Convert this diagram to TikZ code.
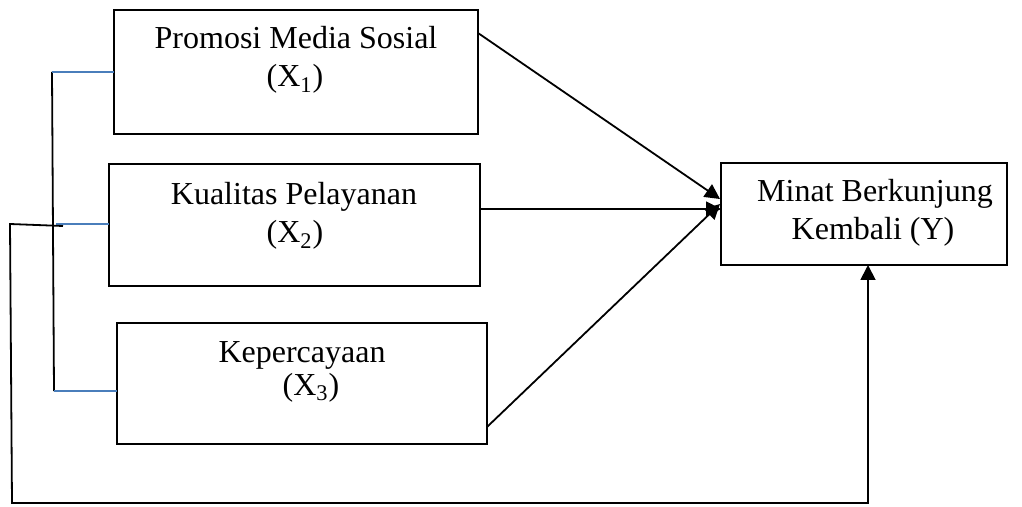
\documentclass[tikz,border=0pt]{standalone}
\usepackage{fontspec}
\setmainfont{Liberation Serif}
\usetikzlibrary{arrows.meta,calc}
\definecolor{wordblue}{HTML}{4A7EBB}
\tikzset{
  box/.style={draw=black, line width=0.9pt, inner sep=0pt, outer sep=0pt, fill=white},
  lbl/.style={anchor=base, inner sep=0pt, font=\fontsize{16}{19}\selectfont},
  conn/.style={draw=black, line width=0.9pt},
  tick/.style={draw=wordblue, line width=0.9pt},
  arr/.style={conn, -{Triangle[length=7.5pt,width=7.5pt]}}
}
\begin{document}
\begin{tikzpicture}[x=0.5pt,y=-0.5pt]
\useasboundingbox (0,0) rectangle (1022,507);
% boxes
\node[box, minimum width=182pt, minimum height=62pt] (x1) at (296,72) {};
\node[box, minimum width=185.5pt, minimum height=61pt] (x2) at (294.5,225) {};
\node[box, minimum width=185pt, minimum height=60.5pt] (x3) at (302,383.5) {};
\node[box, minimum width=143pt, minimum height=51pt] (y) at (864,214) {};
% labels
\node[lbl] (x1a) at (296,49) {Promosi Media Sosial};
\node[lbl] (x1b) at (295,87) {(X\textsubscript{1})};
\node[lbl] (x2a) at (294,205) {Kualitas Pelayanan};
\node[lbl] (x2b) at (295,243) {(X\textsubscript{2})};
\node[lbl] (x3a) at (302,363) {Kepercayaan};
\node[lbl] (x3b) at (311,395) {(X\textsubscript{3})};
\node[lbl] (ya) at (875,202) {Minat Berkunjung};
\node[lbl] (yb) at (873,240) {Kembali (Y)};
% bracket coordinates
\coordinate (b1) at (52,72);
\coordinate (b3) at (54,391);
\coordinate (b2) at (56,224);
\coordinate (l0) at (63,226);
\coordinate (l1) at (10,224);
\coordinate (l2) at (12,503);
\coordinate (ybot) at ($(y.south)+(4,0)$);
% arrow endpoints
\coordinate (s1) at ($(x1.north east)+(0,23)$);
\coordinate (s2) at (480,209);
\coordinate (s3) at ($(x3.south east)+(0,-17)$);
\coordinate (t1) at (720,199);
\coordinate (t2) at (721,209);
\coordinate (t3) at (720,204);
% bracket
\draw[conn] (b1) -- (b3);
\draw[tick] (b1) -- (x1.west);
\draw[tick] (b2) -- (b2 -| x2.west);
\draw[tick] (b3) -- (b3 -| x3.west);
% feedback line
\draw[arr] (l0) -- (l1) -- (l2) -- (l2 -| ybot) -- (ybot);
% arrows to Y
\draw[arr] (s1) -- (t1);
\draw[arr] (s2) -- (t2);
\draw[arr] (s3) -- (t3);
\end{tikzpicture}
\end{document}
